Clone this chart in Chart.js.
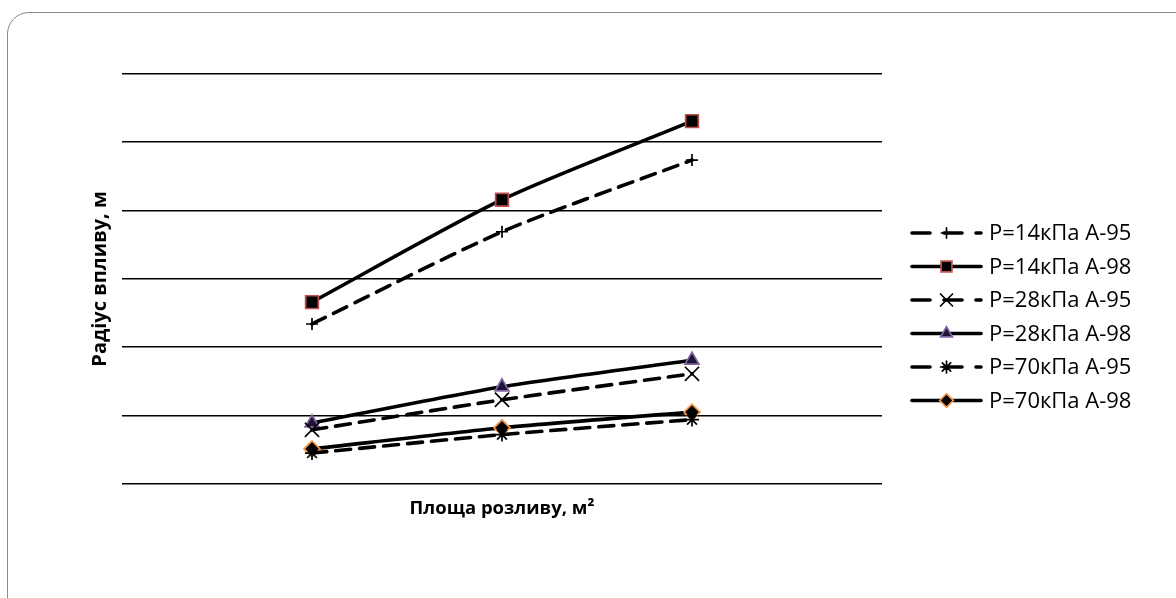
<!DOCTYPE html>
<html>
<head>
<meta charset="utf-8">
<script src="https://cdn.jsdelivr.net/npm/chart.js"></script>
<style>
    html, body { margin: 0; padding: 0; background: #fff; }
    #wrap { position: relative; width: 1176px; height: 598px; }
    #card {
        position: absolute; left: 7px; top: 12px; width: 1200px; height: 620px;
        border: 1.5px solid #8a8a8a; border-radius: 22px; box-sizing: border-box;
    }
    canvas { position: absolute; left: 0; top: 0; }
</style>
</head>
<body>
<div id="wrap">
    <div id="card"></div>
    <canvas id="chart" width="1176" height="598"></canvas>
</div>
<script>
// Data (no value labels, grid 0..6)
const xPoints = [1, 2, 3];
const seriesNames = ['P=14кПа А-95', 'P=14кПа А-98', 'P=28кПа А-95', 'P=28кПа А-98', 'P=70кПа А-95', 'P=70кПа А-98'];
const p14a95 = [2.34, 3.69, 4.74];
const p14a98 = [2.66, 4.16, 5.31];
const p28a95 = [0.79, 1.23, 1.61];
const p28a98 = [0.89, 1.42, 1.81];
const p70a95 = [0.45, 0.72, 0.94];
const p70a98 = [0.51, 0.82, 1.05];
const xTitle = 'Площа розливу, м²';
const yTitle = 'Радіус впливу, м';

const DASH = [15, 9];

function series(label, values, dashed, style, fill, border, radius) {
    return {
        label: label,
        data: values.map((v, i) => ({ x: xPoints[i], y: v })),
        borderColor: '#000',
        borderWidth: 3.6,
        borderDash: dashed ? DASH : [],
        borderCapStyle: 'round',
        tension: 0.25,
        pointStyle: style,
        pointRadius: radius,
        pointBackgroundColor: fill,
        pointBorderColor: border,
        pointBorderWidth: 1.7,
        clip: false
    };
}

const datasets = [
    series(seriesNames[0], p14a95, true, 'cross', '#000', '#000', 6),
    series(seriesNames[1], p14a98, false, 'rect', '#000', '#c0504d', 9),
    series(seriesNames[2], p28a95, true, 'crossRot', '#000', '#000', 10),
    series(seriesNames[3], p28a98, false, 'triangle', '#1d1533', '#8064a2', 8),
    series(seriesNames[4], p70a95, true, 'star', '#000', '#000', 7),
    series(seriesNames[5], p70a98, false, 'rectRot', '#000', '#f79646', 8)
];

// Legend drawn at the right with line + marker samples
const sideLegend = {
    id: 'sideLegend',
    afterDraw(chart) {
        const ctx = chart.ctx;
        const x0 = 912, x1 = 981, y0 = 233, step = 33.5;
        ctx.save();
        chart.data.datasets.forEach((ds, i) => {
            const y = y0 + i * step;
            ctx.strokeStyle = ds.borderColor;
            ctx.lineWidth = ds.borderWidth;
            ctx.lineCap = 'round';
            ctx.setLineDash(ds.borderDash.length ? [18, 14] : []);
            ctx.beginPath();
            ctx.moveTo(x0, y);
            ctx.lineTo(x1, y);
            ctx.stroke();
            ctx.setLineDash([]);
            ctx.fillStyle = ds.pointBackgroundColor;
            ctx.strokeStyle = ds.pointBorderColor;
            ctx.lineWidth = ds.pointBorderWidth;
            Chart.helpers.drawPoint(ctx, {
                pointStyle: ds.pointStyle,
                radius: ds.pointRadius * 0.85,
                borderWidth: ds.pointBorderWidth,
                rotation: 0
            }, (x0 + x1) / 2, y);
            ctx.fillStyle = '#000';
            ctx.font = '22px "Open Sans"';
            ctx.textBaseline = 'middle';
            ctx.fillText(ds.label, 989, y + 1);
        });
        ctx.restore();
    }
};

new Chart(document.getElementById('chart'), {
    type: 'line',
    data: { datasets: datasets },
    options: {
        responsive: false,
        animation: false,
        layout: { padding: { left: 84, right: 294, top: 74, bottom: 74 } },
        plugins: {
            legend: { display: false },
            tooltip: { enabled: false }
        },
        scales: {
            x: {
                type: 'linear',
                min: 0,
                max: 4,
                grid: { display: false },
                border: { display: false },
                ticks: { display: false },
                title: {
                    display: true,
                    text: xTitle,
                    color: '#000',
                    font: { family: 'Open Sans', size: 18.5, weight: 'bold' },
                    padding: { top: 6, bottom: 4 }
                }
            },
            y: {
                min: 0,
                max: 6,
                ticks: { display: false, stepSize: 1 },
                grid: { color: '#000', lineWidth: 1.6, drawTicks: false },
                border: { display: false },
                title: {
                    display: true,
                    text: yTitle,
                    color: '#000',
                    font: { family: 'Open Sans', size: 20, weight: 'bold' },
                    padding: { top: 4, bottom: 10 }
                }
            }
        }
    },
    plugins: [sideLegend]
});
</script>
</body>
</html>
